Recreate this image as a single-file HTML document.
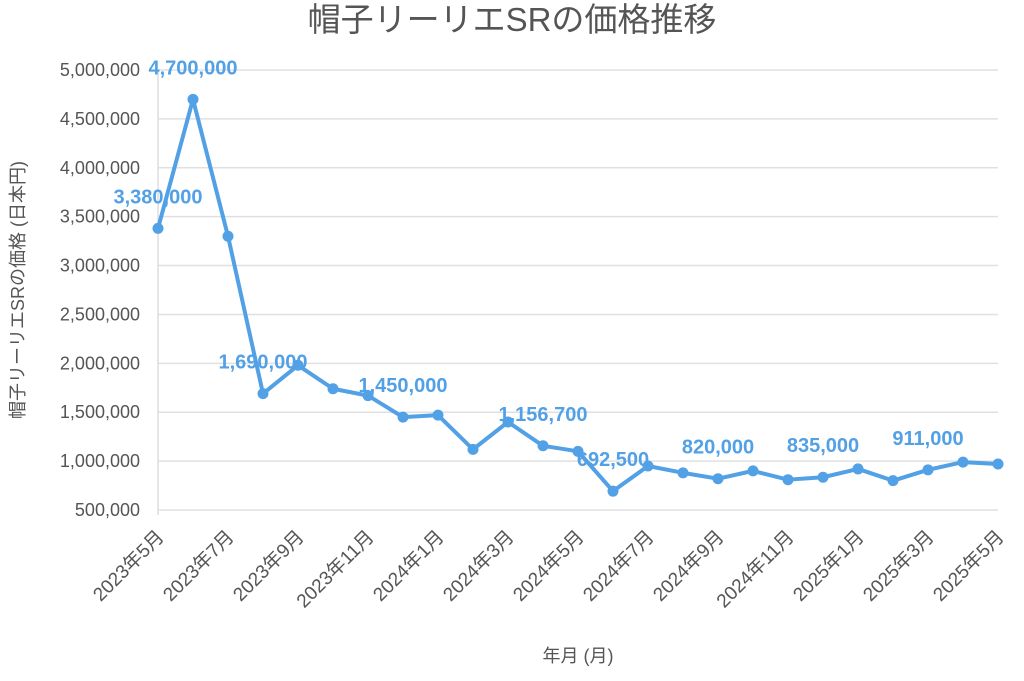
<!DOCTYPE html>
<html><head><meta charset="utf-8"><style>
body{margin:0;background:#fff;}
svg text{font-family:"Liberation Sans","Noto Sans CJK JP",sans-serif;}
</style></head><body>
<svg id="chart" width="1024" height="676" xmlns="http://www.w3.org/2000/svg">
<text x="512" y="31" text-anchor="middle" font-size="33" fill="#555">帽子リーリエSRの価格推移</text>
<text transform="translate(24,290) rotate(-90)" text-anchor="middle" font-size="18" fill="#555">帽子リーリエSRの価格 (日本円)</text>
<text x="578" y="662" text-anchor="middle" font-size="18" fill="#555">年月 (月)</text>
<g id="grid"></g><g id="xlabels"></g><g id="line"></g><g id="labels"></g>
</svg>
<script>
const months=["2023年5月","2023年6月","2023年7月","2023年8月","2023年9月","2023年10月","2023年11月","2023年12月","2024年1月","2024年2月","2024年3月","2024年4月","2024年5月","2024年6月","2024年7月","2024年8月","2024年9月","2024年10月","2024年11月","2024年12月","2025年1月","2025年2月","2025年3月","2025年4月","2025年5月"];
const prices=[3380000,4700000,3300000,1690000,1980000,1740000,1670000,1450000,1470000,1120000,1400000,1156700,1100000,692500,950000,880000,820000,900000,810000,835000,920000,800000,911000,990000,970000];
const labelIdx=[0,1,3,7,11,13,16,19,22];
const yTicks=[500000,1000000,1500000,2000000,2500000,3000000,3500000,4000000,4500000,5000000];
const NS="http://www.w3.org/2000/svg";
const X=i=>158+i*(840/(months.length-1));
const Y=v=>510-(v-500000)/4500000*440;
function mk(t,a,p){const e=document.createElementNS(NS,t);for(const k in a)e.setAttribute(k,a[k]);p.appendChild(e);return e;}
const g=document.getElementById('grid');
yTicks.forEach(v=>{
 const l=mk('line',{x1:158,x2:998,y1:Y(v),y2:Y(v),stroke:'#e0e0e0','stroke-width':1.5},g);
 
 
 const t=mk('text',{x:140,y:Y(v)+6,'text-anchor':'end','font-size':18,fill:'#555'},g);
 
 
 t.textContent=v.toLocaleString('en-US');
});
const ax=mk('line',{x1:158,x2:158,y1:70,y2:515,stroke:'#ddd','stroke-width':1.5},g);


const xl=document.getElementById('xlabels');
months.forEach((m,i)=>{if(i%2)return;
 const t=mk('text',{transform:`translate(${X(i)+7},${538}) rotate(-45)`,'text-anchor':'end','font-size':19,fill:'#555'},xl);
 
 
 t.textContent=m;});
const lg=document.getElementById('line');
const p=mk('polyline',{points:prices.map((v,i)=>X(i)+','+Y(v)).join(' '),fill:'none',stroke:'#52a0e5','stroke-width':4,'stroke-linejoin':'round'},lg);


prices.forEach((v,i)=>{const c=mk('circle',{cx:X(i),cy:Y(v),r:5.5,fill:'#52a0e5'},lg);
 
 });
const lb=document.getElementById('labels');
labelIdx.forEach(i=>{const t=mk('text',{x:X(i),y:Y(prices[i])-25,'text-anchor':'middle','font-size':20,'font-weight':'bold',fill:'#52a0e5'},lb);
 
 
 t.textContent=prices[i].toLocaleString('en-US');});
</script>
</body></html>
